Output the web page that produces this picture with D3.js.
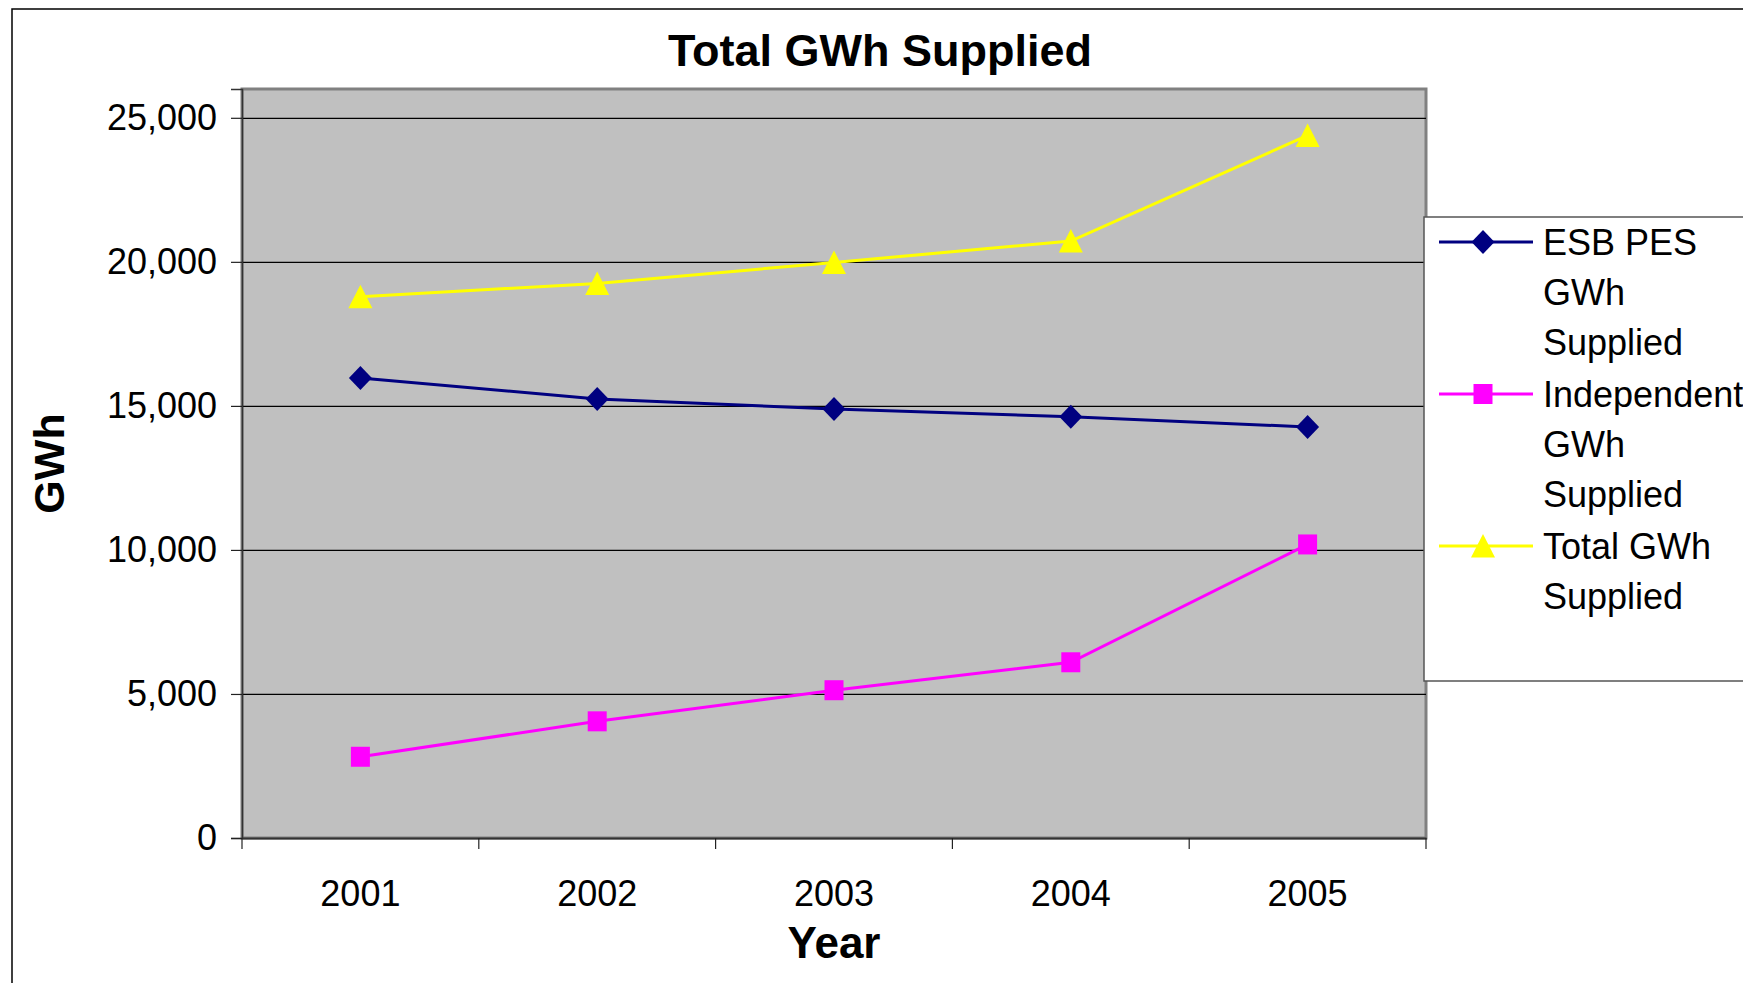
<!DOCTYPE html>
<html>
    <head>
        <title>Total GWh Supplied</title>
        <style>
         body { margin: 0; background: #fff; }
         svg text { font-family: "Liberation Sans", Arial, sans-serif; fill: #000; }
         .grid line { stroke: #000; stroke-width: 1.2px; }
         .grid path { display: none; }
         .yaxis text, .xaxis text { font-size: 36px; }
         .yaxis line, .xtick { stroke: #222; stroke-width: 1.2px; }
        </style>
    </head>
    <body>
        <svg width="1743" height="983"></svg>

        <script src="https://cdn.jsdelivr.net/npm/d3@7"></script>
        <script>

         // data
         var years = ['2001', '2002', '2003', '2004', '2005'];
         var esbPes = [15970, 15240, 14890, 14620, 14270];
         var independent = [2820, 4050, 5130, 6100, 10190];
         var total = [18790, 19250, 19980, 20720, 24390];
         var yTicks = [0, 5000, 10000, 15000, 20000, 25000];

         var series = [
             { name: ['ESB PES', 'GWh', 'Supplied'], values: esbPes, color: '#000080', marker: 'diamond' },
             { name: ['Independent', 'GWh', 'Supplied'], values: independent, color: '#ff00ff', marker: 'square' },
             { name: ['Total GWh', 'Supplied'], values: total, color: '#ffff00', marker: 'triangle' }
         ];

         var svg = d3.select('svg');

         var plot = { left: 242, right: 1426, top: 89, bottom: 838 };

         var x = d3.scaleBand().domain(years).range([plot.left, plot.right]).padding(0);
         var y = d3.scaleLinear().domain([0, 26000]).range([plot.bottom, plot.top]);

         function markerPath(type) {
             if (type === 'diamond') return 'M0,-12L11.5,0L0,12L-11.5,0Z';
             if (type === 'square') return 'M-9.5,-10H9.5V10H-9.5Z';
             return 'M0,-12L12,11.5L-12,11.5Z';
         }

         // outer chart frame (runs off the picture on the right and bottom)
         svg.append('rect')
            .attr('x', 12).attr('y', 9)
            .attr('width', 2000).attr('height', 2000)
            .attr('fill', 'none')
            .attr('stroke', '#000').attr('stroke-width', 1.5);

         // title
         svg.append('text')
            .attr('x', 880).attr('y', 66)
            .attr('text-anchor', 'middle')
            .style('font-size', '45px').style('font-weight', 'bold')
            .text('Total GWh Supplied');

         // plot area
         svg.append('rect')
            .attr('x', plot.left).attr('y', plot.top)
            .attr('width', plot.right - plot.left).attr('height', plot.bottom - plot.top)
            .attr('fill', '#c0c0c0')
            .attr('stroke', '#808080').attr('stroke-width', 3);

         // gridlines
         svg.append('g')
            .attr('class', 'grid')
            .attr('transform', 'translate(' + plot.left + ',0)')
            .call(d3.axisLeft(y).tickValues(yTicks.slice(1)).tickSize(-(plot.right - plot.left)).tickFormat(''));

         // y axis
         var yAxis = svg.append('g')
            .attr('class', 'yaxis')
            .attr('transform', 'translate(' + plot.left + ',0)')
            .call(d3.axisLeft(y).tickValues(yTicks).tickSize(11).tickPadding(14).tickFormat(d3.format(',')));
         yAxis.select('.domain').attr('stroke', '#333').attr('stroke-width', 1.5);

         // x axis
         var xAxis = svg.append('g')
            .attr('class', 'xaxis')
            .attr('transform', 'translate(0,' + plot.bottom + ')')
            .call(d3.axisBottom(x).tickSize(0).tickPadding(42));
         xAxis.select('.domain').attr('stroke', '#333').attr('stroke-width', 2);

         // category boundary ticks
         var edges = years.map(function(d) { return x(d); }).concat([x.range()[1]]);
         xAxis.selectAll('.xtick')
              .data(edges)
              .enter()
              .append('line')
              .attr('class', 'xtick')
              .attr('x1', function(d) { return d; })
              .attr('x2', function(d) { return d; })
              .attr('y1', 0).attr('y2', 11);

         // axis titles
         svg.append('text')
            .attr('x', x.range()[0] + (x.range()[1] - x.range()[0]) / 2).attr('y', 958)
            .attr('text-anchor', 'middle')
            .style('font-size', '44px').style('font-weight', 'bold')
            .text('Year');

         svg.append('text')
            .attr('transform', 'translate(64,' + (plot.top + plot.bottom) / 2 + ') rotate(-90)')
            .attr('text-anchor', 'middle')
            .style('font-size', '43px').style('font-weight', 'bold')
            .text('GWh');

         // lines and markers
         var line = d3.line()
                      .x(function(d, i) { return x(years[i]) + x.bandwidth() / 2; })
                      .y(function(d) { return y(d); });

         series.forEach(function(s) {
             var g = svg.append('g');
             g.append('path')
              .attr('d', line(s.values))
              .attr('fill', 'none')
              .attr('stroke', s.color)
              .attr('stroke-width', 3);

             g.selectAll('path.mark')
              .data(s.values)
              .enter()
              .append('path')
              .attr('class', 'mark')
              .attr('d', markerPath(s.marker))
              .attr('fill', s.color)
              .attr('transform', function(d, i) {
                  return 'translate(' + (x(years[i]) + x.bandwidth() / 2) + ',' + y(d) + ')';
              });
         });

         // legend
         var legend = svg.append('g').attr('transform', 'translate(1424,217)');
         legend.append('rect')
               .attr('x', 0).attr('y', 0)
               .attr('width', 400).attr('height', 464)
               .attr('fill', '#fff')
               .attr('stroke', '#555').attr('stroke-width', 1.5);

         var lineH = 50;
         var rowY = 25;
         series.forEach(function(s) {
             var item = legend.append('g').attr('transform', 'translate(0,' + rowY + ')');
             item.append('line')
                 .attr('x1', 15).attr('x2', 109)
                 .attr('y1', 0).attr('y2', 0)
                 .attr('stroke', s.color).attr('stroke-width', 3);
             item.append('path')
                 .attr('d', markerPath(s.marker))
                 .attr('fill', s.color)
                 .attr('transform', 'translate(59,0)');
             s.name.forEach(function(t, k) {
                 item.append('text')
                     .attr('x', 119).attr('y', k * lineH + 13)
                     .style('font-size', '36px')
                     .text(t);
             });
             rowY += s.name.length * lineH + 2;
         });

        </script>
    </body>
</html>
